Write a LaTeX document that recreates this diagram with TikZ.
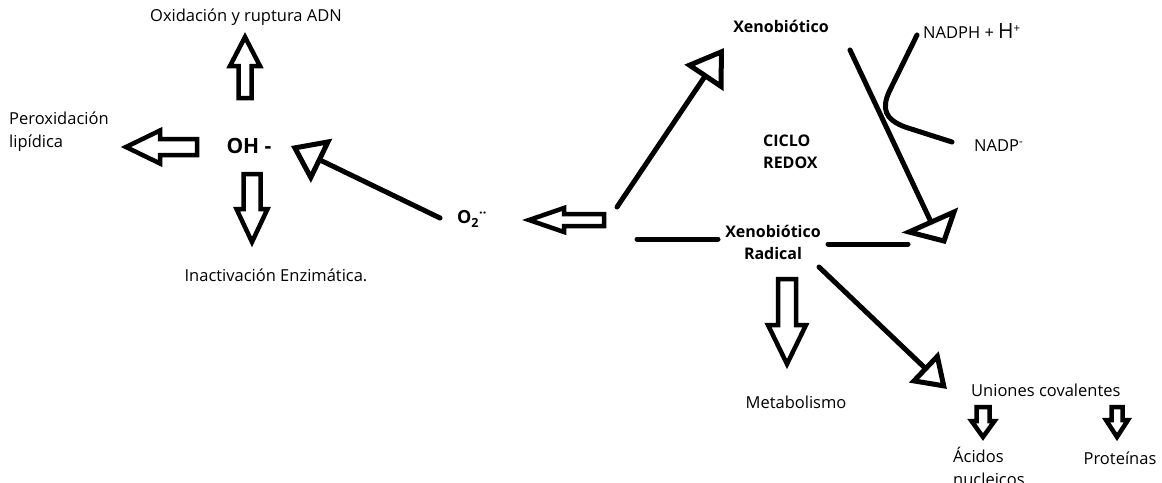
\documentclass[tikz,border=0pt]{standalone}
\usepackage{fontspec}
\setmainfont{Open Sans}
\usetikzlibrary{arrows.meta}

\tikzset{
  lbl/.style={font=\fontsize{16.5}{23}\selectfont, inner sep=0pt},
  boldlbl/.style={lbl, font=\fontsize{16}{22}\selectfont\bfseries},
  thickline/.style={line width=5pt, line cap=round},
  openhead/.style n args={2}{thickline, -{Triangle[open, length=#1pt, width=#2pt]}},
  % hollow block arrow: tip at the origin, pointing along +x
  pics/blockarrow/.style n args={4}{code={
    \draw[line width=4.5pt] (0,0) -- (-#2,#3) -- (-#2,#4) -- (-#1,#4)
      -- (-#1,-#4) -- (-#2,-#4) -- (-#2,-#3) -- cycle;
  }}
}

\begin{document}
\begin{tikzpicture}[x=1pt, y=-1pt]
    \fill[white] (0,0) rectangle (1162,482);
    \useasboundingbox (0,0) rectangle (1162,482);

    % left part: OH radical and its effects
    \node[lbl] (oxi) at (246,17) {Oxidación y ruptura ADN};
    \node[lbl, align=left, anchor=west] (perox) at (9,132) {Peroxidación\\lipídica};
    \node[lbl, font=\fontsize{21}{24}\selectfont\bfseries] (oh) at (249,146) {OH -};
    \node[lbl] (inact) at (276,275) {Inactivación Enzimática.};
    \node[boldlbl, font=\fontsize{18}{22}\selectfont\bfseries] (o2) at (472,219) {O\textsubscript{2}\textsuperscript{··}};

    \pic[rotate=90] at (245,37) {blockarrow={61}{29}{15}{6.5}};
    \pic[rotate=180] at (126,147) {blockarrow={71}{34}{16.5}{8}};
    \pic[rotate=-90] at (252,242) {blockarrow={68}{33}{15.5}{8.5}};
    \pic[rotate=180] at (529,220) {blockarrow={75}{35}{12}{6}};

    \coordinate (o2tail) at (440,218);
    \coordinate (ohtip) at (291,146);
    \draw[openhead={34}{48}] (o2tail) -- (ohtip);

    % redox cycle
    \node[boldlbl] (xeno) at (781,26) {Xenobiótico};
    \node[boldlbl, align=left, anchor=west] (ciclo) at (763,152) {CICLO\\REDOX};
    \node[boldlbl, align=center] (rad) at (773,242) {Xenobiótico\\Radical};
    \node[lbl, anchor=west] (nadph) at (923,31) {NADPH + {\fontsize{21}{24}\selectfont H}\textsuperscript{+}};
    \node[lbl, anchor=west] (nadp) at (974,146) {NADP\textsuperscript{-}};

    \coordinate (cycstart) at (617,207);
    \coordinate (xenotip) at (724,48);
    \coordinate (xenoout) at (850,50);
    \coordinate (radin) at (931,222);
    \coordinate (radlA) at (637,239);
    \coordinate (radlB) at (718,239);
    \coordinate (radrA) at (828,244);
    \coordinate (radrB) at (908,244);
    \coordinate (nadpin) at (917,35);
    \coordinate (nadpout) at (952,142);

    \draw[openhead={36}{46}] (cycstart) -- (xenotip);
    \draw[thickline] (xenoout) -- (radin);
    \draw[line width=5pt] (909,232) -- (954,212) -- (944,241) -- cycle;
    \draw[thickline] (radlA) -- (radlB);
    \draw[thickline] (radrA) -- (radrB);
    \draw[thickline] (nadpin) -- (889,92) .. controls (882,108) and (884,119) .. (905,127) -- (nadpout);

    % fate of the radical
    \node[lbl] (metab) at (796,402) {Metabolismo};
    \node[lbl, anchor=west] (union) at (971,390) {Uniones covalentes};
    \node[lbl, align=left, anchor=west] (acid) at (953,466) {Ácidos\\nucleicos};
    \node[lbl] (prot) at (1120,458) {Proteínas};

    \pic[rotate=-90] at (787,364) {blockarrow={85}{39}{19}{9}};
    \pic[rotate=-90] at (983,437) {blockarrow={30}{16}{11.5}{6.5}};
    \pic[rotate=-90] at (1117,437) {blockarrow={30}{17}{11}{5.5}};

    \coordinate (radout) at (819,267);
    \coordinate (uniontip) at (947,389);
    \draw[openhead={32}{42}] (radout) -- (uniontip);
\end{tikzpicture}
\end{document}
